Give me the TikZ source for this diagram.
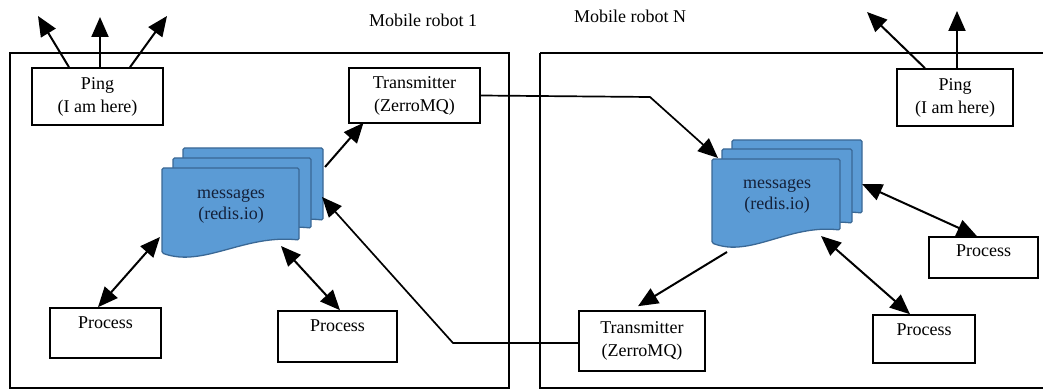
\documentclass[tikz,border=0pt]{standalone}
\usepackage{fontspec}
\setmainfont{Liberation Serif}
\usetikzlibrary{arrows.meta}
\definecolor{docfill}{HTML}{5B9BD5}
\definecolor{docline}{HTML}{3A6895}
\definecolor{doctext}{HTML}{14213A}
\newcommand{\docpath}[4]{%
  (#1,#2) -- (#3,#2) -- (#3,#4) .. controls ({#1+0.6*(#3-#1)},{#4-6}) and ({#1+0.3*(#3-#1)},{#4+28}) .. (#1,{#4+13}) -- cycle}
\begin{document}
\begin{tikzpicture}[x=1pt,y=-1pt,
  font=\fontsize{18}{23}\selectfont,
  box/.style={draw=black,line width=1.6pt,inner sep=0pt,align=center},
  frame/.style={draw=black,line width=1.4pt},
  conn/.style={line width=2pt,-{Triangle[length=20pt,width=17pt]}},
  longconn/.style={line width=1.7pt,-{Triangle[length=20pt,width=17pt]}},
  biconn/.style={line width=2pt,{Triangle[length=20pt,width=17pt]}-{Triangle[length=20pt,width=17pt]}},
  doc/.style={fill=docfill,draw=docline,line width=1.3pt,rounded corners=1.5pt},
  msgtext/.style={align=center,text=doctext,font=\fontsize{18}{21}\selectfont}]
\useasboundingbox (0,0) rectangle (1043,390);
% frames
\draw[frame] (10,53) rectangle (509,388);
\draw[frame] (540,53) -- (1045,53);
\draw[frame] (540,53) -- (540,388) -- (1045,388);
% titles
\node[anchor=base] (t1) at (423,27) {Mobile robot 1};
\node[anchor=base] (tN) at (630,23) {Mobile robot N};
% left boxes
\node[box,minimum width=131pt,minimum height=57pt] (pingL) at (97.5,96.5) {Ping\\(I am here)};
\node[box,minimum width=131pt,minimum height=55pt] (transL) at (414.5,95.5) {Transmitter\\(ZerroMQ)};
\node[box,minimum width=111pt,minimum height=50pt,text height=12pt,text depth=22pt] (procL1) at (105.5,333) {Process};
\node[box,minimum width=119pt,minimum height=51pt,text height=12pt,text depth=23pt] (procL2) at (337.5,336.5) {Process};
% right boxes
\node[box,minimum width=116pt,minimum height=57pt] (pingR) at (955,97.5) {Ping\\(I am here)};
\node[box,minimum width=126pt,minimum height=60pt] (transR) at (642,341) {Transmitter\\(ZerroMQ)};
\node[box,minimum width=109pt,minimum height=41pt,text height=12pt,text depth=14pt] (procR1) at (983.5,257.5) {Process};
\node[box,minimum width=102pt,minimum height=48pt,text height=12pt,text depth=20pt] (procR2) at (924,339) {Process};
% left documents
\draw[doc] \docpath{183}{148}{323}{220};
\draw[doc] \docpath{173}{158}{311}{228};
\draw[doc] \docpath{162}{168}{299}{240};
\node[msgtext] (msgL) at (231,206) {messages\\(redis.io)};
% right documents
\draw[doc] \docpath{732}{140}{862}{213};
\draw[doc] \docpath{722}{149}{852}{223};
\draw[doc] \docpath{712}{159}{840}{230};
\node[msgtext] (msgR) at (777,196) {messages\\(redis.io)};
% connector end points
\coordinate (pL1) at (38,16);
\coordinate (pL2) at (100,17);
\coordinate (pL3) at (167,16);
\coordinate (pR1) at (867,12);
\coordinate (pR2) at (957,11);
\coordinate (mLout) at (325,167);
\coordinate (mLin) at (322,197);
\coordinate (mLp1) at (160,237);
\coordinate (mLp2) at (281,246);
\coordinate (mRin) at (718,158);
\coordinate (mRout) at (727,252);
\coordinate (mRp1) at (862,184);
\coordinate (mRp2) at (821,236);
\coordinate (bendA) at (650,97);
\coordinate (bendB) at (453,343);
% connectors
\draw[conn] ([xshift=-28.5pt]pingL.north) -- (pL1);
\draw[conn] ([xshift=2.5pt]pingL.north) -- (pL2);
\draw[conn] ([xshift=32.5pt]pingL.north) -- (pL3);
\draw[conn] ([xshift=-30pt]pingR.north) -- (pR1);
\draw[conn] ([xshift=2pt]pingR.north) -- (pR2);
\draw[conn] (mLout) -- ([xshift=-51pt,yshift=1pt]transL.south);
\draw[longconn] (transL.east) -- (bendA) -- (mRin);
\draw[longconn] ([yshift=-2pt]transR.west) -- (bendB) -- (mLin);
\draw[biconn] ([xshift=-7.5pt]procL1.north) -- (mLp1);
\draw[biconn] (mLp2) -- ([xshift=2.5pt]procL2.north);
\draw[biconn] (mRp1) -- ([xshift=-6.5pt]procR1.north);
\draw[biconn] (mRp2) -- ([xshift=-14pt]procR2.north);
\draw[conn] (mRout) -- ([xshift=-4pt,yshift=4pt]transR.north);
\end{tikzpicture}
\end{document}
